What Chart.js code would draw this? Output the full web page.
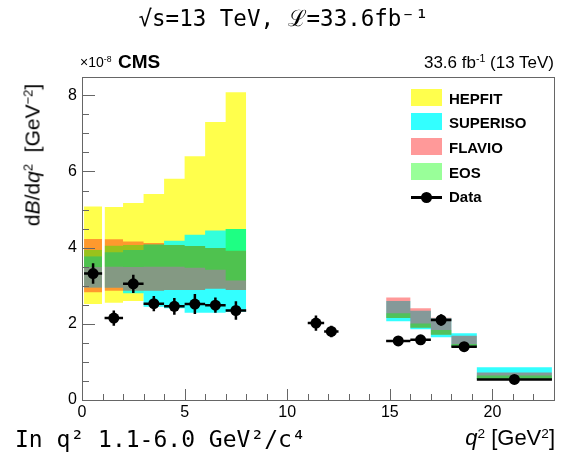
<!DOCTYPE html>
<html lang="en">
<head>
<meta charset="utf-8">
<title>dB/dq2</title>
<script src="https://cdn.jsdelivr.net/npm/chart.js@4/dist/chart.umd.min.js"></script>
<style>
  body { margin: 0; background: #fff; }
  #wrap { position: relative; width: 567px; height: 455px; overflow: hidden; }
  #wrap canvas { position: absolute; left: 0; top: 0; }
  .txt { position: absolute; white-space: nowrap; color: #000; line-height: 1; }
  .mono { font-family: "DejaVu Sans Mono", monospace; }
  .helv { font-family: "Liberation Sans", Arial, sans-serif; }
  sup { font-size: 0.62em; vertical-align: 0.55em; line-height: 0; }
  .lbox { position: absolute; width: 31px; height: 17px; }
  .ltxt { position: absolute; font: bold 15px "Liberation Sans", Arial, sans-serif; line-height: 1; }
</style>
</head>
<body>
<div id="wrap">
  <canvas id="c" width="567" height="455"></canvas>

  <div class="txt mono" style="left:0; width:567px; text-align:center; top:7px; font-size:22.5px;">√s=13 TeV, ℒ=33.6fb⁻¹</div>

  <div class="txt helv" style="left:80px; top:55px; font-size:14px;">×10<sup>-8</sup></div>
  <div class="txt helv" style="left:118px; top:52px; font-size:19px; font-weight:bold;">CMS</div>
  <div class="txt helv" style="right:13px; top:54px; font-size:17px;">33.6 fb<sup>-1</sup> (13 TeV)</div>

  <div class="lbox" style="left:411px; top:89px; background:#ffff4d;"></div>
  <div class="ltxt" style="left:449px; top:91px;">HEPFIT</div>
  <div class="lbox" style="left:411px; top:113px; background:#33ffff;"></div>
  <div class="ltxt" style="left:449px; top:115px;">SUPERISO</div>
  <div class="lbox" style="left:411px; top:138px; background:#ff9999;"></div>
  <div class="ltxt" style="left:449px; top:140px;">FLAVIO</div>
  <div class="lbox" style="left:411px; top:163px; background:#99ff99;"></div>
  <div class="ltxt" style="left:449px; top:165px;">EOS</div>
  <div style="position:absolute; left:411px; top:196px; width:31px; height:2.5px; background:#000;"></div>
  <div style="position:absolute; left:421px; top:192px; width:11px; height:11px; border-radius:50%; background:#000;"></div>
  <div class="ltxt" style="left:449px; top:189px;">Data</div>

  <div class="txt helv" style="left:32px; top:155px; font-size:21px; transform:translate(-50%,-50%) rotate(-90deg);">d<i>B</i>/d<i>q</i><sup>2</sup>&nbsp; [GeV<sup>−2</sup>]</div>
  <div class="txt helv" style="right:12px; top:427px; font-size:22px;"><i>q</i><sup>2</sup> [GeV<sup>2</sup>]</div>
  <div class="txt mono" style="left:15px; top:428px; font-size:23px;">In q² 1.1-6.0 GeV²/c⁴</div>
</div>

<script>
// q^2 bins [GeV^2]
const binLo = [0.1, 1.1, 2, 3, 4, 5, 6, 7, 11, 11.8, 14.82, 16, 17, 18, 19.24];
const binHi = [0.98, 2, 3, 4, 5, 6, 7, 8, 11.8, 12.5, 16, 17, 18, 19.24, 22.9];

// measured dB/dq2 (x 1e-8)
const dataY   = [3.32, 2.15, 3.05, 2.53, 2.46, 2.52, 2.49, 2.35, 2.02, 1.80, 1.55, 1.58, 2.10, 1.40, 0.54];
const dataErr = [0.27, 0.20, 0.24, 0.20, 0.22, 0.26, 0.20, 0.24, 0.20, 0.15, 0.08, 0.10, 0.15, 0.07, 0.04];

// theory bands, lower / upper edge per bin (null = no prediction)
const hepfitLo   = [2.52, 2.55, 2.60, 2.87, 2.89, 2.89, 2.92, 2.89, null, null, null, null, null, null, null];
const hepfitHi   = [5.08, 5.07, 5.17, 5.41, 5.81, 6.40, 7.30, 8.08, null, null, null, null, null, null, null];
const superisoLo = [2.95, 2.95, 2.80, 2.45, 2.41, 2.29, 2.29, 2.32, null, null, 2.07, 1.86, 1.65, 1.40, 0.55];
const superisoHi = [3.77, 3.88, 3.94, 4.08, 4.18, 4.34, 4.45, 4.49, null, null, 2.60, 2.34, 2.15, 1.75, 0.86];
const flavioLo   = [2.83, 2.87, 2.87, 2.87, 2.89, 2.89, 2.92, 2.89, null, null, 2.15, 1.90, 1.71, 1.40, 0.55];
const flavioHi   = [4.23, 4.22, 4.16, 4.12, 4.07, 4.04, 3.99, 3.92, null, null, 2.69, 2.41, 2.16, 1.69, 0.72];
const eosLo      = [3.49, 3.50, 3.49, 3.50, 3.50, 3.47, 3.42, 3.14, null, null, 2.15, 1.90, 1.71, 1.40, 0.55];
const eosHi      = [3.94, 4.05, 4.07, 4.08, 4.07, 4.04, 3.99, 4.49, null, null, 2.28, 2.01, 1.84, 1.47, 0.64];

const xTicks = [0, 5, 10, 15, 20];
const yTicks = [0, 2, 4, 6, 8];

// histogram-like step outline, broken where bins are missing or not touching
function steps(vals) {
  var pts = [];
  for (var i = 0; i < vals.length; i++) {
    if (vals[i] == null) continue;
    var last = pts[pts.length - 1];
    if (last && last.x !== binLo[i]) pts.push({x: (last.x + binLo[i]) / 2, y: null});
    pts.push({x: binLo[i], y: vals[i]});
    pts.push({x: binHi[i], y: vals[i]});
  }
  return pts;
}

function band(lo, hi, color, order) {
  return [
    {type: 'line', data: steps(lo), borderWidth: 0, pointRadius: 0, fill: false, order: order, spanGaps: false},
    {type: 'line', data: steps(hi), borderWidth: 0, pointRadius: 0, fill: '-1', backgroundColor: color, order: order, spanGaps: false}
  ];
}

var xBars = [], yBars = [], markers = [];
for (var i = 0; i < dataY.length; i++) {
  var c = (binLo[i] + binHi[i]) / 2;
  xBars.push({x: binLo[i], y: dataY[i]}, {x: binHi[i], y: dataY[i]}, {x: binHi[i], y: null});
  yBars.push({x: c, y: dataY[i] - dataErr[i]}, {x: c, y: dataY[i] + dataErr[i]}, {x: c, y: null});
  markers.push({x: c, y: dataY[i]});
}

var datasets = []
  .concat(band(hepfitLo, hepfitHi, 'rgba(255,255,0,0.7)', 8))
  .concat(band(superisoLo, superisoHi, 'rgba(0,255,255,0.8)', 7))
  .concat(band(flavioLo, flavioHi, 'rgba(255,0,0,0.4)', 6))
  .concat(band(eosLo, eosHi, 'rgba(0,255,0,0.4)', 5));
datasets.push({type: 'line', data: xBars, borderColor: '#000', borderWidth: 2.5, pointRadius: 0, fill: false, order: 2, spanGaps: false});
datasets.push({type: 'line', data: yBars, borderColor: '#000', borderWidth: 2.5, pointRadius: 0, fill: false, order: 2, spanGaps: false});
datasets.push({type: 'scatter', data: markers, backgroundColor: '#000', borderWidth: 0, pointRadius: 5.5, order: 1});

// ROOT style frame with inward ticks
var framePlugin = {
  id: 'frame',
  afterDatasetsDraw: function(chart) {
    var ctx = chart.ctx, a = chart.chartArea, xs = chart.scales.x, ys = chart.scales.y;
    ctx.save();
    ctx.strokeStyle = '#666';
    ctx.lineWidth = 1;
    ctx.beginPath();
    for (var v = 0; v <= 23; v++) {
      var px = Math.round(xs.getPixelForValue(v)) + 0.5;
      var len = (v % 5 === 0) ? 11 : 6;
      ctx.moveTo(px, a.bottom); ctx.lineTo(px, a.bottom - len);
    }
    for (var w = 0; w <= 8.4; w += 0.5) {
      var py = Math.round(ys.getPixelForValue(w)) + 0.5;
      var l2 = (w % 2 === 0) ? 13 : 7;
      ctx.moveTo(a.left, py); ctx.lineTo(a.left + l2, py);
    }
    ctx.stroke();
    ctx.strokeRect(Math.round(a.left) + 0.5, Math.round(a.top) + 0.5, Math.round(a.right - a.left), Math.round(a.bottom - a.top));
    ctx.restore();
  }
};

new Chart('c', {
  type: 'line',
  data: {datasets: datasets},
  options: {
    responsive: false,
    animation: false,
    events: [],
    layout: {padding: {left: 0, right: 13, top: 77, bottom: 0}},
    plugins: {legend: {display: false}, tooltip: {enabled: false}},
    scales: {
      x: {
        type: 'linear', min: 0, max: 23,
        afterFit: function(s) { s.height = 55; },
        afterBuildTicks: function(s) { s.ticks = xTicks.map(function(v) { return {value: v}; }); },
        grid: {display: false, drawTicks: false},
        border: {display: false},
        ticks: {color: '#000', padding: 3, maxRotation: 0, font: {family: 'Liberation Sans', size: 16}}
      },
      y: {
        type: 'linear', min: 0, max: 8.48,
        afterFit: function(s) { s.width = 82; },
        afterBuildTicks: function(s) { s.ticks = yTicks.map(function(v) { return {value: v}; }); },
        grid: {display: false, drawTicks: false},
        border: {display: false},
        ticks: {color: '#000', padding: 5, font: {family: 'Liberation Sans', size: 16}}
      }
    }
  },
  plugins: [framePlugin]
});
</script>
</body>
</html>
